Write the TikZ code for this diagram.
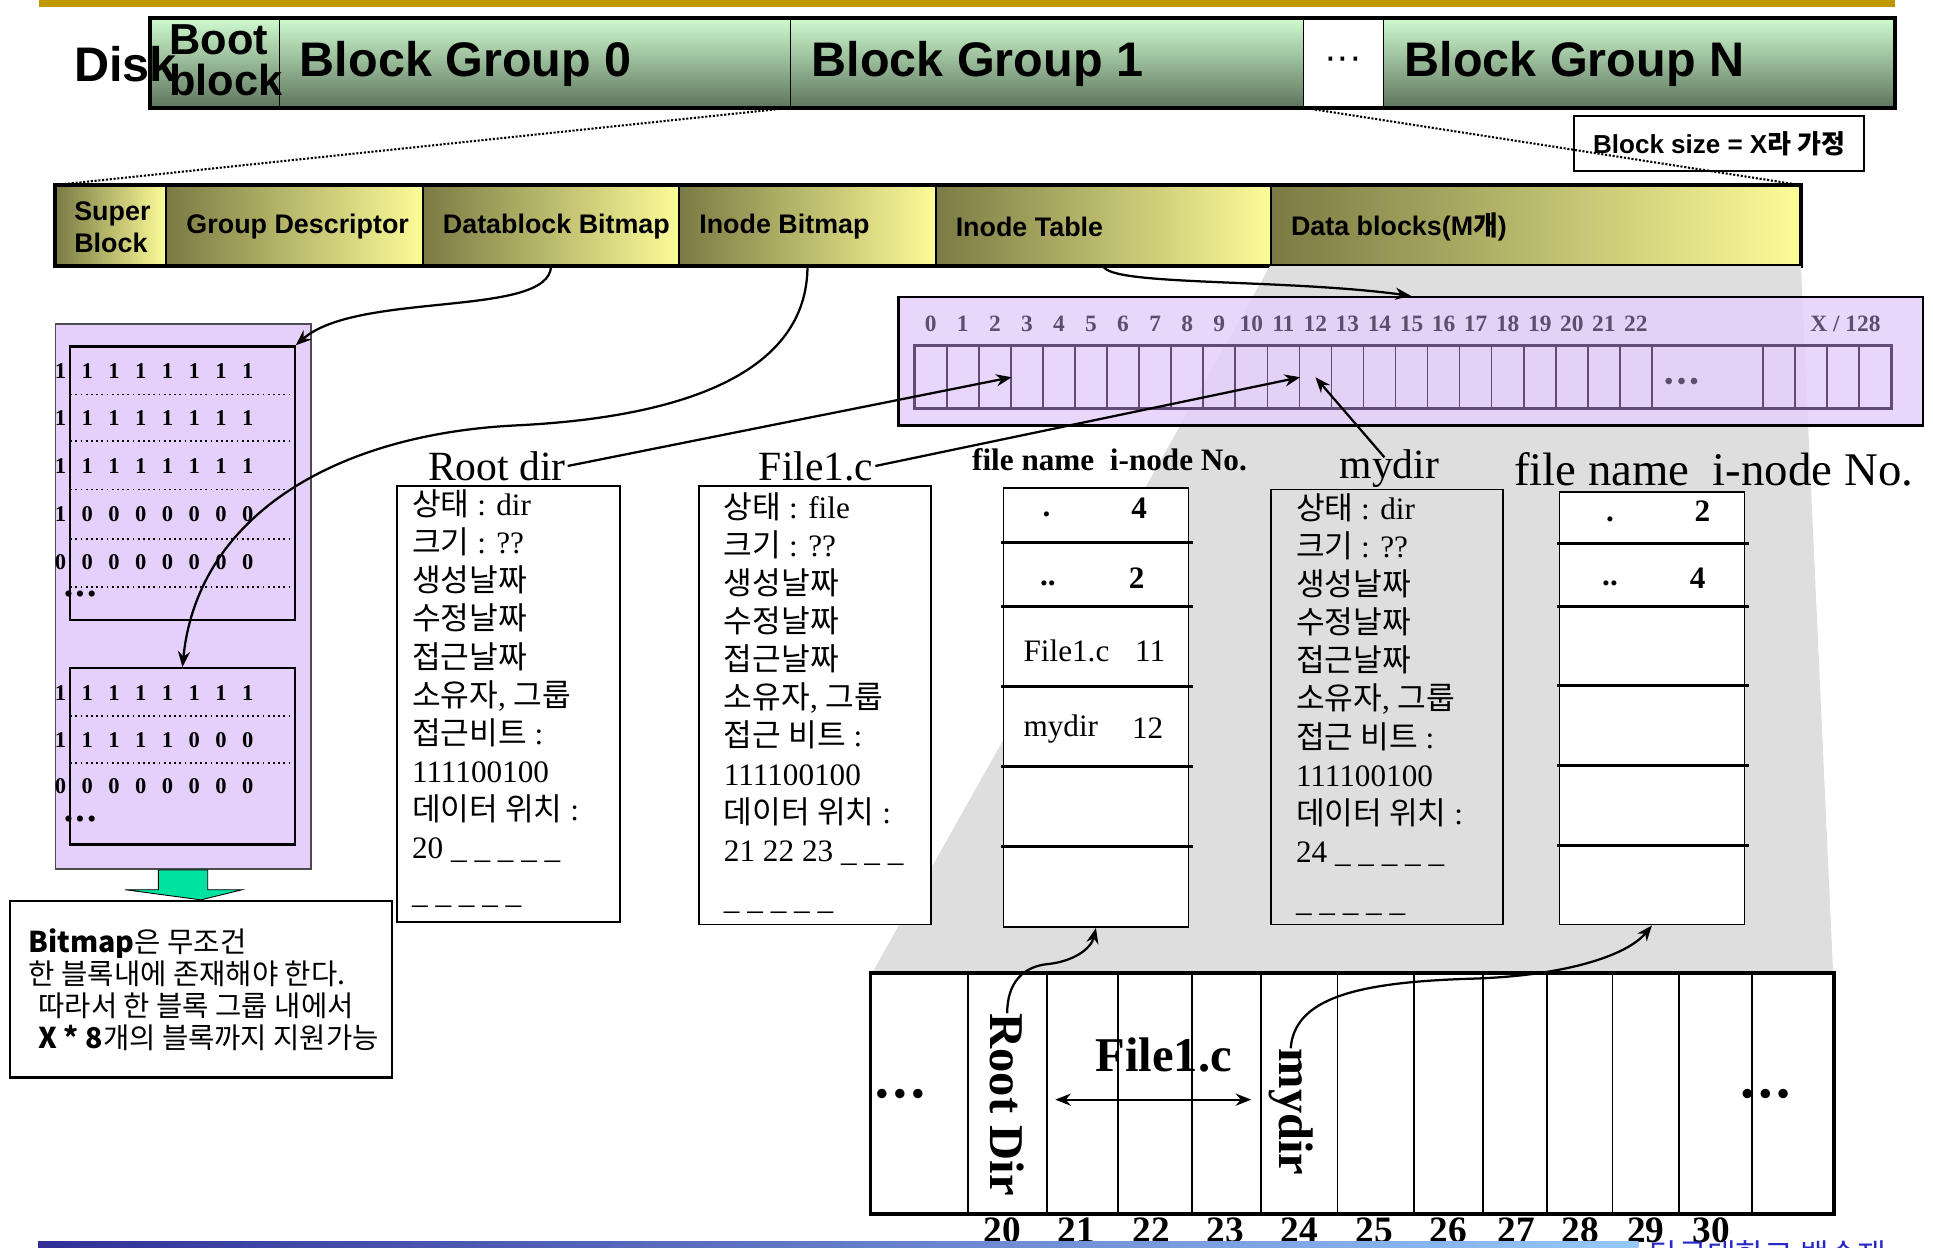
\documentclass[tikz,border=0pt]{standalone}
\usepackage{fontspec}
\setmainfont{Liberation Serif}
\setsansfont{Liberation Sans}
\newfontfamily\kr{Noto Sans CJK KR}
\usepackage{tikz}
\usetikzlibrary{positioning, arrows.meta, fit, calc}
\definecolor{goldBar}{RGB}{192,152,0}
\definecolor{diskHi}{RGB}{206,250,206}
\definecolor{diskLo}{RGB}{94,118,94}
\definecolor{groupDark}{RGB}{122,122,68}
\definecolor{groupLight}{RGB}{252,252,152}
\definecolor{lilac}{RGB}{228,208,250}
\definecolor{cellEdge}{RGB}{96,76,118}
\definecolor{idxText}{RGB}{92,78,108}
\definecolor{shadowGray}{RGB}{222,222,222}
\definecolor{arrowGreen}{RGB}{0,226,160}
\definecolor{footDark}{RGB}{48,48,150}
\definecolor{footLight}{RGB}{150,200,250}
\definecolor{footText}{RGB}{40,40,200}

\begin{document}
\begin{tikzpicture}[
  x=0.025cm, y=-0.025cm,
  fitbox/.style={inner sep=0pt, fit={#1}},
  diskseg/.style={draw=black, line width=0.6pt, top color=diskHi, bottom color=diskLo},
  disklbl/.style={font=\sffamily\bfseries\fontsize{28}{30}\selectfont, inner sep=0pt, anchor=west},
  grpseg/.style={draw=black, line width=1.2pt, left color=groupDark, right color=groupLight},
  grplbl/.style={font=\sffamily\bfseries\fontsize{15.5}{18.5}\selectfont, inner sep=0pt, anchor=west, align=left},
  bitrow/.style={font=\bfseries\fontsize{13}{15}\selectfont, inner sep=0pt},
  inodebox/.style={draw=black, line width=1pt, fill=white},
  inodetxt/.style={font=\fontsize{18}{22}\selectfont, inner sep=0pt, anchor=north west, align=left},
  title/.style={font=\fontsize{24}{26}\selectfont, inner sep=1pt},
  cell/.style={draw=cellEdge, line width=0.9pt, minimum width=0.65cm, minimum height=1.25cm, inner sep=0pt},
  idx/.style={font=\bfseries\fontsize{13.5}{15}\selectfont, text=idxText, inner sep=0pt},
  arr/.style={-{Stealth[length=9pt, width=7pt]}, line width=1.3pt},
  dirline/.style={line width=1.8pt},
  dirtxt/.style={font=\fontsize{18}{20}\selectfont, inner sep=0pt},
  dirbold/.style={font=\bfseries\fontsize{18}{20}\selectfont, inner sep=0pt},
  blk/.style={draw=black, line width=1pt, fill=white},
  blknum/.style={font=\bfseries\fontsize{21.5}{23}\selectfont, inner sep=0pt},
  vlbl/.style={font=\bfseries\fontsize{28}{30}\selectfont, inner sep=0pt},
]
  \useasboundingbox (0,0) rectangle (1568,1012);
  \fill[goldBar] (32,0) rectangle (1537,6);

  \node[diskseg, fitbox={(122,15) (227,87)}] (boot) {};
  \node[diskseg, fitbox={(227,15) (641,87)}] (bg0) {};
  \node[diskseg, fitbox={(641,15) (1057,87)}] (bg1) {};
  \node[draw=black, line width=0.6pt, fill=white, fitbox={(1057,15) (1122,87)}] (gdots) {};
  \node[diskseg, fitbox={(1122,15) (1537,87)}] (bgN) {};
  \draw[line width=2.2pt] (boot.north west) rectangle (bgN.south east);
  \node[disklbl] (disk) at (60,52) {Disk};
  \node[disklbl, align=left, font=\sffamily\bfseries\fontsize{25}{23.5}\selectfont] (bootlbl) at (137,49) {Boot\\block};
  \node[disklbl] (bg0lbl) at (243,52) {Block Group 0};
  \node[disklbl] (bg1lbl) at (658,52) {Block Group 1};
  \node[disklbl, anchor=center, font=\sffamily\fontsize{22}{24}\selectfont] (gdotslbl) at (gdots.center) {···};
  \node[disklbl] (bgNlbl) at (1139,52) {Block Group N};

  \node[draw, line width=1pt, fill=white, minimum width=5.875cm, minimum height=1.125cm, font=\sffamily\bfseries\fontsize{15}{17}\selectfont] (bsize) at (1394.5,116.5) {Block size = X{\kr 라 가정}};

  \node[grpseg, fitbox={(45,151) (135,215)}] (sb) {};
  \node[grpseg, fitbox={(135,151) (343,215)}] (gd) {};
  \node[grpseg, fitbox={(343,151) (551,215)}] (dbb) {};
  \node[grpseg, fitbox={(551,151) (759,215)}] (ib) {};
  \node[grpseg, fitbox={(759,151) (1031,215)}] (it) {};
  \node[grpseg, fitbox={(1031,151) (1460,215)}] (db) {};
  \draw[line width=2pt] (sb.north west) rectangle (db.south east);
  \node[grplbl] (sbl) at (60,184) {Super\\Block};
  \node[grplbl] (gdl) at (151,184) {Group Descriptor};
  \node[grplbl] (dbbl) at (359,184) {Datablock Bitmap};
  \node[grplbl] (ibl) at (567,184) {Inode Bitmap};
  \node[grplbl] (itl) at (775,184) {Inode Table};
  \node[grplbl] (dbl) at (1047,184) {Data blocks(M{\kr 개})};

  \draw[densely dotted, line width=1.2pt] (bg0.south east) -- (sb.north west);
  \draw[densely dotted, line width=1.2pt] (bg1.south east) -- (db.north east);

  \coordinate (rowNW) at (707,790);
  \coordinate (rowNE) at (1487,790);
  \fill[shadowGray] (db.south west) -- (db.south east) -- (rowNE) -- (rowNW) -- cycle;

  \node[fitbox={(729,241) (1560,345)}, draw=black, line width=1.5pt, fill=lilac, fill opacity=0.85] (itab) {};
  \foreach \i in {0,...,22} {
    \node[cell] (c\i) at (755+26*\i,306) {};
    \node[idx] (ix\i) at (755+26*\i,263) {\i};
  }
  \node[cell, minimum width=2.25cm] (cdots) at (1385,306) {};
  \foreach \j in {0,...,3}
    \node[cell] (ce\j) at (1443+26*\j,306) {};
  \draw[cellEdge, line width=1.4pt] (c0.north west) rectangle (ce3.south east);
  \node[idx] (ixX) at (1497,263) {X / 128};
  \node[idx, font=\bfseries\fontsize{14}{15}\selectfont] (ixdots) at (1364,311) {\textbullet\,\textbullet\,\textbullet};

  \node[draw=black!70, line width=1pt, fill=lilac, fitbox={(45,263) (252,705)}] (bmout) {};
  \node[draw=black, line width=1.3pt, fitbox={(57,281) (239,503)}] (bmup) {};
  \node[draw=black, line width=1.3pt, fitbox={(57,542) (239,685)}] (bmlow) {};
  \foreach \yy in {320,358,397,437,476,581,619}
    \draw[dotted, line width=1pt] (57,\yy) -- (239,\yy);
  \foreach \ones/\yy [count=\r] in {8/301, 8/339, 8/378, 1/417, 0/456, 8/562, 5/600, 0/638} {
    \foreach \k in {0,...,7} {
      \pgfmathtruncatemacro\bitval{\k<\ones ? 1 : 0}
      \node[bitrow] (bit\r-\k) at (49+21.7*\k,\yy) {\bitval};
    }
  }
  \node[bitrow] (bdots1) at (65,484) {\textbullet\,\textbullet\,\textbullet};
  \node[bitrow] (bdots2) at (65,666) {\textbullet\,\textbullet\,\textbullet};

  \node[draw, line width=1.5pt, fill=white, fitbox={(8,731) (318,874)}] (note) {};
  \node[font=\kr\fontsize{16.5}{18.5}\selectfont, align=left, anchor=west, inner sep=0pt] (notetxt) at (23,803) {\textbf{Bitmap}은 무조건\\한 블록내에 존재해야 한다.\\\hspace*{0.2cm}따라서 한 블록 그룹 내에서\\\hspace*{0.2cm}\textbf{X * 8}개의 블록까지 지원가능};
  \fill[arrowGreen, draw=black, line width=0.5pt] ($(bmout.south)+(-20,0)$) -- ($(bmout.south)+(20,0)$) -- ($(bmout.south)+(20,16)$) -- ($(bmout.south)+(48,16)$) -- (note.north) -- ($(bmout.south)+(-47,16)$) -- ($(bmout.south)+(-20,16)$) -- cycle;

  \draw[arr] (dbb.south) .. controls (446,258) and (290,236) .. (bmup.north east);
  \draw[arr] (ib.south) .. controls (655,300) and (560,338) .. (420,345) .. controls (270,352) and (160,420) .. (bmlow.north);
  \draw[arr] (it.south) .. controls (900,232) and (1040,226) .. (itab.north);

  \node[inodebox, fitbox={(322,394) (503,748)}] (rootbox) {};
  \node[title] (rootlbl) at (403,378) {Root dir};
  \node[inodetxt] (roottxt) at (334,397) {{\kr 상태} : dir\\{\kr 크기} : ??\\{\kr 생성날짜}\\{\kr 수정날짜}\\{\kr 접근날짜}\\{\kr 소유자}, {\kr 그룹}\\{\kr 접근비트} :\\111100100\\{\kr 데이터 위치} :\\20 \_ \_ \_ \_ \_\\[4pt]\_ \_ \_ \_ \_};

  \node[inodebox, fitbox={(567,394) (755,750)}] (filebox) {};
  \node[title] (filelbl) at (662,378) {File1.c};
  \node[inodetxt] (filetxt) at (587,399) {{\kr 상태} : file\\{\kr 크기} : ??\\{\kr 생성날짜}\\{\kr 수정날짜}\\{\kr 접근날짜}\\{\kr 소유자}, {\kr 그룹}\\{\kr 접근 비트} :\\111100100\\{\kr 데이터 위치} :\\21 22 23 \_ \_ \_\\[6pt]\_ \_ \_ \_ \_};

  \node[draw=black, line width=1pt, fitbox={(1031,397) (1219,750)}] (mydirbox) {};
  \node[title] (mydirlbl) at (1127,380) {mydir};
  \node[inodetxt] (mydirtxt) at (1051,400) {{\kr 상태} : dir\\{\kr 크기} : ??\\{\kr 생성날짜}\\{\kr 수정날짜}\\{\kr 접근날짜}\\{\kr 소유자}, {\kr 그룹}\\{\kr 접근 비트} :\\111100100\\{\kr 데이터 위치} :\\24 \_ \_ \_ \_ \_\\[6pt]\_ \_ \_ \_ \_};

  \draw[arr] (rootlbl.east) -- (c2.east);
  \draw[arr] (filelbl.east) -- (c11.east);
  \draw[arr] ($(mydirlbl.north)+(-4,8)$) -- (c12.center);

  \node[font=\bfseries\fontsize{18}{20}\selectfont, inner sep=0pt] (fnhead1) at (900,373) {file name\ \ i-node No.};
  \node[blk, fitbox={(814,396) (964,752)}] (dt1) {};
  \foreach \yy in {440,492,557,622,687}
    \draw[dirline] (812,\yy) -- (968,\yy);
  \node[dirbold] (dt1a) at (849,417) {.};
  \node[dirbold] (dt1b) at (924,412) {4};
  \node[dirbold] (dt1c) at (850,473) {..};
  \node[dirbold] (dt1d) at (922,469) {2};
  \node[dirtxt, anchor=west] (dt1e) at (830,528) {File1.c};
  \node[dirtxt] (dt1f) at (933,528) {11};
  \node[dirtxt, anchor=west] (dt1g) at (830,591) {mydir};
  \node[dirtxt] (dt1h) at (931,591) {12};

  \node[font=\fontsize{27}{29}\selectfont, inner sep=0pt] (fnhead2) at (1390,381) {file name\ \ i-node No.};
  \node[blk, fitbox={(1265,399) (1415,750)}] (dt2) {};
  \foreach \yy in {441,492,556,621,686}
    \draw[dirline] (1263,\yy) -- (1419,\yy);
  \node[dirbold] (dt2a) at (1306,421) {.};
  \node[dirbold] (dt2b) at (1381,415) {2};
  \node[dirbold] (dt2c) at (1306,473) {..};
  \node[dirbold] (dt2d) at (1377,469) {4};

  \foreach \a/\b [count=\k] in {707/785,785/849,849/907,907/967,967/1023,1023/1085,1085/1147,1147/1203,1203/1255,1255/1308,1308/1362,1362/1421,1421/1487}
    \node[blk, fitbox={(\a,790) (\b,984)}] (b\k) {};
  \draw[line width=2pt] (b1.north west) rectangle (b13.south east);
  \foreach \n/\x in {20/813,21/873,22/934,23/994,24/1054,25/1115,26/1175,27/1230,28/1282,29/1335,30/1388}
    \node[blknum] (bn\n) at (\x,998) {\n};
  \node[vlbl, font=\bfseries\fontsize{20}{22}\selectfont] (bdl) at (730,890) {\textbullet\,\textbullet\,\textbullet};
  \node[vlbl, font=\bfseries\fontsize{20}{22}\selectfont] (bdr) at (1432,890) {\textbullet\,\textbullet\,\textbullet};
  \node[vlbl, rotate=-90] (rdv) at (817,896) {Root Dir};
  \node[vlbl, rotate=-90] (mdv) at (1047,902) {mydir};
  \node[vlbl] (f1b) at (944,856) {File1.c};
  \coordinate (fl) at (856,892);
  \coordinate (fr) at (1015,892);
  \draw[{Stealth[length=9pt, width=7pt]}-{Stealth[length=9pt, width=7pt]}, line width=1.3pt] (fl) -- (fr);

  \draw[arr] (rdv.west) .. controls +(0,-25) and (830,784) .. (850,782) .. controls (870,780) and (885,770) .. (dt1.south);
  \draw[arr] (mdv.west) .. controls (1050,810) and (1100,797) .. (1190,794) .. controls (1270,792) and (1320,775) .. (dt2.south);

  \shade[left color=footDark, right color=footLight] (31,1007) rectangle (1329,1012);
  \node[font=\kr\fontsize{18}{20}\selectfont, text=footText, anchor=north west, inner sep=0pt] (foot) at (1338,1006) {단국대학교 백승재};
\end{tikzpicture}
\end{document}
